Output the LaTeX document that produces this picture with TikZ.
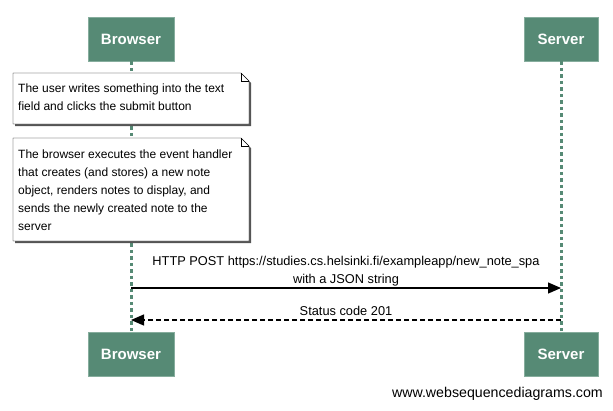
\documentclass[tikz,border=0pt]{standalone}
\usepackage{fontspec}
\setmainfont{Liberation Sans}
\usetikzlibrary{positioning, arrows.meta, calc}
\definecolor{actorgreen}{HTML}{568A75}
\definecolor{actorrim}{HTML}{86AD9D}
\definecolor{noteshadow}{HTML}{555555}

\begin{document}
\begin{tikzpicture}[x=1pt, y=-1pt, font=\fontsize{12}{18}\selectfont,
  actor/.style={fill=actorgreen, draw=actorrim, line width=0.8pt, minimum height=44pt,
    text=white, font=\fontsize{15}{16}\selectfont\bfseries},
  lifeline/.style={actorgreen, line width=3pt, dash pattern=on 3.5pt off 3pt},
  notetext/.style={anchor=west, align=left, inner sep=0pt},
  msglabel/.style={inner sep=0pt, align=center, font=\fontsize{12.8}{18}\selectfont},
  msg/.style={-{Triangle[length=13pt, width=11pt]}, line width=1.3pt},
  reply/.style={msg, dash pattern=on 5pt off 3pt}]
\useasboundingbox (0,0) rectangle (613,410);

% Actors
\node[actor, minimum width=86pt] (browser top) at (131,39) {Browser};
\node[actor, minimum width=74pt] (server top) at (561,39) {Server};
\node[actor, minimum width=86pt] (browser bot) at (131,354) {Browser};
\node[actor, minimum width=74pt] (server bot) at (561,354) {Server};

% Lifelines
\draw[lifeline] (browser top.south) -- (browser bot.north);
\draw[lifeline] (server top.south) -- (server bot.north);

% Note 1
\fill[noteshadow] (15,75) -- (243,75) -- (251,83) -- (251,126) -- (15,126) -- cycle;
\filldraw[fill=white, draw=black] (13,73) -- (241,73) -- (249,81) -- (249,124) -- (13,124) -- cycle;
\draw (241,73) -- (241,81) -- (249,81);
\node[notetext] (note user) at (18,97) {The user writes something into the text\\field and clicks the submit button};

% Note 2
\fill[noteshadow] (15,140) -- (243,140) -- (251,148) -- (251,243) -- (15,243) -- cycle;
\filldraw[fill=white, draw=black] (13,138) -- (241,138) -- (249,146) -- (249,241) -- (13,241) -- cycle;
\draw (241,138) -- (241,146) -- (249,146);
\node[notetext] (note handler) at (18,190) {The browser executes the event handler\\that creates (and stores) a new note\\object, renders notes to display, and\\sends the newly created note to the\\server};

% Messages
\coordinate (y post) at (0,288);
\coordinate (y status) at (0,320);
\draw[msg] (browser top |- y post) -- (server top |- y post)
  node[msglabel, midway, above=1pt] (post label)
  {HTTP POST https://studies.cs.helsinki.fi/exampleapp/new\_note\_spa\\with a JSON string};
\draw[reply] (server top |- y status) -- (browser top |- y status)
  node[msglabel, midway, above=4pt] (status label) {Status code 201};

% Footer
\node[anchor=east, inner sep=0pt, font=\fontsize{14.2}{16}\selectfont] (footer) at (603,394) {www.websequencediagrams.com};
\end{tikzpicture}
\end{document}
